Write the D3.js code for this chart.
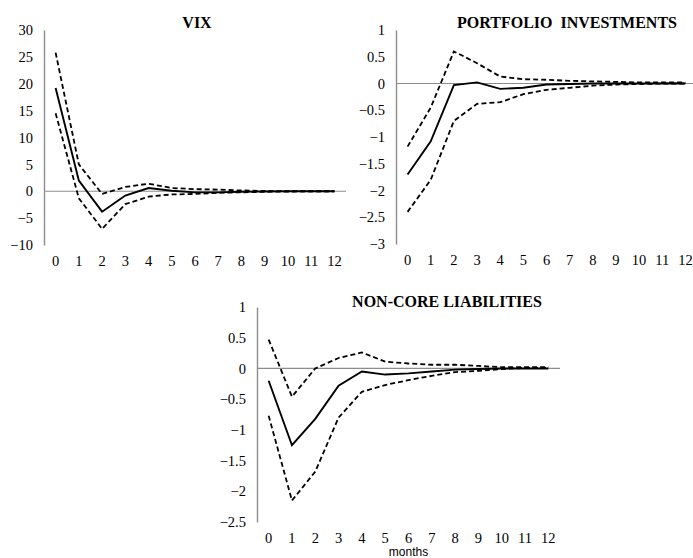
<!DOCTYPE html>
<html>
<head>
<meta charset="utf-8">
<script src="https://cdn.jsdelivr.net/npm/d3@7"></script>
<style>
  body { margin: 0; background: #fff; }
  svg { display: block; }
</style>
</head>
<body>
<svg id="chart" width="693" height="558"></svg>
<script>
// months after the shock
const months = ['0','1','2','3','4','5','6','7','8','9','10','11','12'];

// VIX response
const vixMid   = [19.2, 2.0, -3.8, -0.8, 0.6, 0.1, -0.2, -0.2, -0.1, -0.05, 0, 0, 0];
const vixUpper = [25.8, 5.0, -0.5, 0.8, 1.4, 0.6, 0.4, 0.3, 0.15, 0.05, 0, 0, 0];
const vixLower = [14.5, -1.3, -7.0, -2.4, -1.0, -0.6, -0.5, -0.3, -0.2, -0.1, -0.05, 0, 0];
const vixTicks = [30, 25, 20, 15, 10, 5, 0, -5, -10];

// portfolio investments response
const piMid   = [-1.7, -1.08, -0.03, 0.02, -0.1, -0.08, -0.02, -0.01, 0, 0, 0, 0, 0];
const piUpper = [-1.18, -0.45, 0.6, 0.38, 0.13, 0.08, 0.07, 0.05, 0.04, 0.03, 0.02, 0.02, 0.02];
const piLower = [-2.4, -1.8, -0.7, -0.38, -0.35, -0.2, -0.12, -0.08, -0.04, -0.02, -0.01, 0, 0];
const piTicks = [1, 0.5, 0, -0.5, -1, -1.5, -2, -2.5, -3];

// non-core liabilities response
const ncMid   = [-0.2, -1.25, -0.82, -0.28, -0.05, -0.1, -0.08, -0.05, -0.02, -0.01, 0, 0, 0];
const ncUpper = [0.47, -0.46, 0, 0.17, 0.26, 0.11, 0.08, 0.06, 0.06, 0.04, 0.02, 0.02, 0.02];
const ncLower = [-0.77, -2.15, -1.68, -0.8, -0.38, -0.27, -0.19, -0.12, -0.06, -0.04, -0.01, 0.01, 0.01];
const ncTicks = [1, 0.5, 0, -0.5, -1, -1.5, -2, -2.5];

const panels = [
  { title: 'VIX', mid: vixMid, upper: vixUpper, lower: vixLower, ticks: vixTicks,
    left: 44, right: 346, top: 30, bottom: 245, titleX: 197, titleY: 28 },
  { title: 'PORTFOLIO  INVESTMENTS', mid: piMid, upper: piUpper, lower: piLower, ticks: piTicks,
    left: 396, right: 697, top: 30, bottom: 244, titleX: 567, titleY: 28 },
  { title: 'NON-CORE LIABILITIES', mid: ncMid, upper: ncUpper, lower: ncLower, ticks: ncTicks,
    left: 257, right: 560, top: 307, bottom: 522, titleX: 447, titleY: 307, xlabel: 'months' }
];

const svg = d3.select('#chart');
const serif = 'Liberation Serif, Times New Roman, serif';

panels.forEach(function (p) {
  const x = d3.scaleBand().domain(months).range([p.left, p.right]);
  const y = d3.scaleLinear()
    .domain([d3.min(p.ticks), d3.max(p.ticks)])
    .range([p.bottom, p.top]);
  const px = function (d, i) { return x(months[i]) + x.bandwidth() / 2; };

  const g = svg.append('g');

  // y axis
  const yAxis = d3.axisLeft(y).tickValues(p.ticks).tickSize(0).tickPadding(11)
    .tickFormat(d3.format('~g'));
  const ya = g.append('g').attr('transform', 'translate(' + p.left + ',0)').call(yAxis)
    .attr('font-family', serif).attr('font-size', 14.5);
  ya.select('.domain').attr('stroke', '#8c8c8c').attr('stroke-width', 1.4);
  ya.selectAll('text').attr('fill', '#000');

  // zero line
  g.append('line')
    .attr('x1', p.left).attr('x2', p.right)
    .attr('y1', y(0)).attr('y2', y(0))
    .attr('stroke', '#8c8c8c').attr('stroke-width', 1.2);

  // x labels (category axis at the bottom, no line)
  const xAxis = d3.axisBottom(x).tickSize(0).tickPadding(11);
  const xa = g.append('g').attr('transform', 'translate(0,' + p.bottom + ')').call(xAxis)
    .attr('font-family', serif).attr('font-size', 14.5);
  xa.select('.domain').remove();
  xa.selectAll('text').attr('fill', '#000');

  const line = d3.line().x(px).y(function (d) { return y(d); });

  g.append('path').datum(p.upper).attr('d', line)
    .attr('fill', 'none').attr('stroke', '#000').attr('stroke-width', 1.8)
    .attr('stroke-dasharray', '5,3');
  g.append('path').datum(p.lower).attr('d', line)
    .attr('fill', 'none').attr('stroke', '#000').attr('stroke-width', 1.8)
    .attr('stroke-dasharray', '5,3');
  g.append('path').datum(p.mid).attr('d', line)
    .attr('fill', 'none').attr('stroke', '#000').attr('stroke-width', 1.9);

  g.append('text')
    .attr('x', p.titleX).attr('y', p.titleY)
    .attr('text-anchor', 'middle')
    .attr('font-family', serif).attr('font-size', 16).attr('font-weight', 'bold')
    .style('white-space', 'pre')
    .text(p.title);

  if (p.xlabel) {
    g.append('text')
      .attr('x', x('6') + x.bandwidth() / 2).attr('y', 556)
      .attr('text-anchor', 'middle')
      .attr('font-family', 'Liberation Sans, Arial, sans-serif').attr('font-size', 12)
      .text(p.xlabel);
  }
});
</script>
</body>
</html>
